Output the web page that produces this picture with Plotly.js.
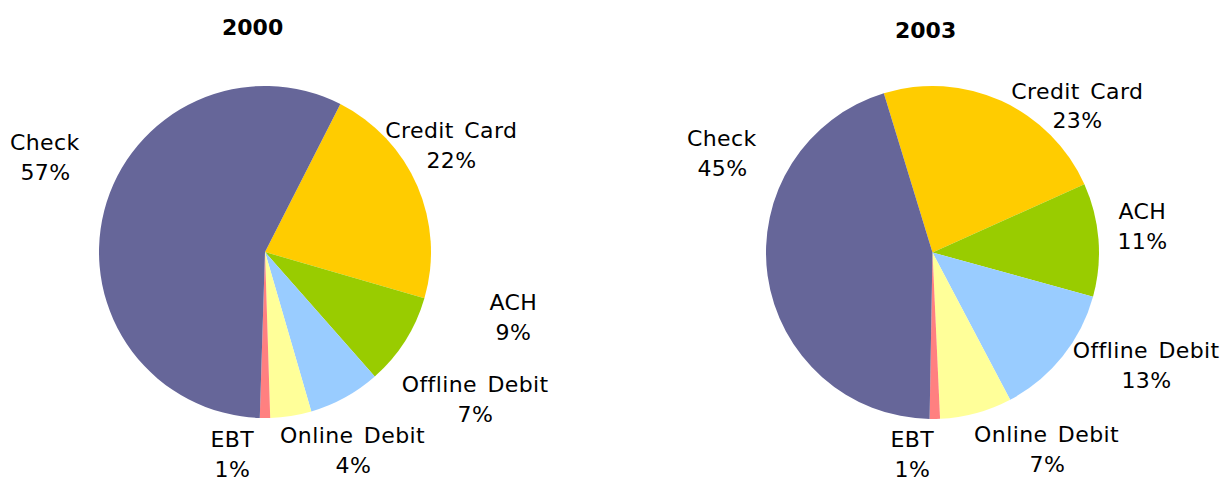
<!DOCTYPE html>
<html>
<head>
<meta charset="utf-8">
<script src="https://cdn.plot.ly/plotly-3.0.1.min.js"></script>
<style>
html,body{margin:0;padding:0;background:#fff;}
#chart{width:1222px;height:481px;}
.lbl text{letter-spacing:0.4px;word-spacing:3px;}
</style>
</head>
<body>
<div id="chart"></div>
<script>
// ---- data ----
const categories = ["Credit Card", "ACH", "Offline Debit", "Online Debit", "EBT", "Check"];
const values2000 = [22, 9, 7, 4, 1, 57];
const values2003 = [23, 11, 13, 7, 1, 45];
const years = ["2000", "2003"];

// ---- styles / layout helpers ----
const colors = ["#FFCC00", "#99CC00", "#99CCFF", "#FFFF99", "#FF8080", "#666699"];
const W = 1222, H = 481;
const font = "DejaVu Sans, Verdana, sans-serif";
// label anchor positions in pixels (x, y of first line), per pie, in category order
const labelPos = [
  [[452,130],[513,302],[475,384],[353,435],[232,439],[45,142]],
  [[1077,91],[1142,211],[1146,350],[1047,434],[912,439],[722,138]]
];
const lineGap = 30;
const titlePos = [[252,27],[925,30]];

function px2x(p){return p/W;}
function px2y(p){return 1 - p/H;}

const pies = [
  {values: values2000, dom: {x:[99/W, 431/W], y:[px2y(418), px2y(86)]}, rot: 27},
  {values: values2003, dom: {x:[766/W, 1099/W], y:[px2y(419), px2y(86)]}, rot: -17}
];

const data = pies.map(p => ({
  type: "pie",
  labels: categories,
  values: p.values,
  sort: false,
  direction: "clockwise",
  rotation: p.rot,
  textinfo: "none",
  hoverinfo: "label+percent",
  marker: {colors: colors, line: {width: 0}},
  domain: p.dom,
  showlegend: false
}));

const annotations = [];
pies.forEach((p, i) => {
  const tot = p.values.reduce((a,b)=>a+b,0);
  categories.forEach((c, j) => {
    const [x, y] = labelPos[i][j];
    const pct = Math.round(p.values[j] / tot * 100) + "%";
    annotations.push({text: c, x: px2x(x), y: px2y(y), xref: "paper", yref: "paper",
      xanchor: "center", yanchor: "middle", showarrow: false,
      font: {family: font, size: 22, color: "#000"}});
    annotations.push({text: pct, x: px2x(x), y: px2y(y + lineGap), xref: "paper", yref: "paper",
      xanchor: "center", yanchor: "middle", showarrow: false,
      font: {family: font, size: 22, color: "#000"}});
  });
  annotations.push({text: "<b>" + years[i] + "</b>", x: px2x(titlePos[i][0]), y: px2y(titlePos[i][1]),
    xref: "paper", yref: "paper", xanchor: "center", yanchor: "middle", showarrow: false,
    font: {family: font, size: 22, color: "#000"}});
});

const layout = {
  width: W, height: H,
  margin: {l:0, r:0, t:0, b:0},
  paper_bgcolor: "#fff",
  annotations: annotations,
  font: {family: font}
};

Plotly.newPlot("chart", data, layout, {displayModeBar: false, staticPlot: true}).then(() => {
  document.querySelectorAll(".annotation").forEach(a => {
    if (!a.textContent.match(/^\d{4}$/)) a.classList.add("lbl");
  });
});
</script>
</body>
</html>
